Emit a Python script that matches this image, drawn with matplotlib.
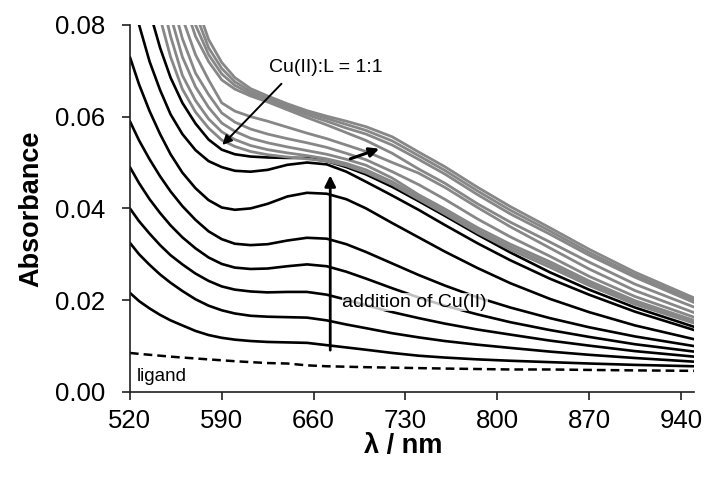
import matplotlib
matplotlib.use("Agg")
import matplotlib.pyplot as plt

plt.rcParams['font.family'] = ['Liberation Sans', 'DejaVu Sans']

wavelength = [520, 527, 535, 543, 551, 560, 570, 580, 590, 600, 612, 625, 640,
              655, 670, 685, 700, 720, 740, 760, 785, 810, 840, 870, 905, 950]

# black spectra (increasing Cu(II) up to Cu(II):L = 1:1)
black_1 = [.0216, .0198, .0182, .0168, .0156, .0145, .0133, .0124, .0118, .0114, .0111, .0109, .0108,
           .0107, .0102, .0097, .0092, .0085, .0079, .0075, .0071, .0068, .0065, .0062, .0059, .0056]
black_2 = [.0325, .0300, .0277, .0256, .0238, .0220, .0202, .0188, .0178, .0171, .0166, .0164, .0163,
           .0162, .0156, .0147, .0139, .0128, .0119, .0111, .0103, .0096, .0088, .0081, .0074, .0066]
black_3 = [.0400, .0372, .0345, .0320, .0298, .0278, .0258, .0242, .0230, .0223, .0219, .0217, .0218,
           .0218, .0212, .0201, .0189, .0174, .0161, .0149, .0136, .0125, .0112, .0101, .0089, .0077]
black_4 = [.0490, .0455, .0420, .0390, .0363, .0337, .0313, .0293, .0279, .0271, .0268, .0269, .0274,
           .0278, .0274, .0262, .0247, .0226, .0206, .0188, .0169, .0152, .0135, .0120, .0104, .0088]
black_5 = [.0590, .0548, .0507, .0470, .0437, .0405, .0375, .0350, .0333, .0323, .0320, .0322, .0330,
           .0336, .0334, .0322, .0305, .0280, .0255, .0232, .0206, .0184, .0161, .0141, .0121, .0100]
black_6 = [.0730, .0670, .0612, .0562, .0518, .0478, .0444, .0418, .0402, .0397, .0400, .0410, .0426,
           .0434, .0432, .0420, .0400, .0368, .0337, .0306, .0270, .0237, .0203, .0174, .0145, .0115]
black_7 = [.0960, .0800, .0720, .0658, .0605, .0562, .0527, .0503, .0490, .0482, .0480, .0484, .0495,
           .0500, .0496, .0480, .0458, .0428, .0397, .0364, .0324, .0287, .0247, .0212, .0175, .0135]
black_8 = [.1050, .0930, .0830, .0750, .0685, .0630, .0585, .0550, .0528, .0518, .0513, .0511, .0510,
           .0510, .0503, .0490, .0474, .0447, .0416, .0384, .0343, .0304, .0261, .0223, .0184, .0142]
black_series = [black_1, black_2, black_3, black_4, black_5, black_6, black_7, black_8]

# grey spectra (beyond 1:1)
grey_1 = [.125, .110, .095, .0815, .0730, .0660, .0610, .0575, .0549, .0535, .0524, .0517, .0512,
          .0508, .0503, .0493, .0478, .0452, .0420, .0388, .0347, .0310, .0272, .0232, .0191, .0150]
grey_2 = [.130, .115, .100, .0870, .0775, .0690, .0635, .0595, .0567, .0550, .0537, .0528, .0521,
          .0515, .0508, .0498, .0484, .0458, .0425, .0393, .0352, .0316, .0278, .0237, .0195, .0153]
grey_3 = [.135, .120, .105, .0920, .0820, .0730, .0665, .0620, .0586, .0568, .0553, .0543, .0534,
          .0526, .0518, .0507, .0494, .0466, .0430, .0399, .0358, .0322, .0284, .0242, .0199, .0156]
grey_4 = [.140, .125, .110, .0970, .0865, .0770, .0695, .0648, .0608, .0588, .0573, .0562, .0552,
          .0543, .0533, .0520, .0506, .0480, .0452, .0420, .0377, .0338, .0296, .0252, .0208, .0163]
grey_5 = [.145, .130, .115, .1020, .0910, .0815, .0735, .0680, .0630, .0612, .0600, .0590, .0577,
          .0564, .0552, .0538, .0524, .0500, .0477, .0446, .0402, .0360, .0314, .0268, .0221, .0173]
grey_6 = [.150, .135, .120, .1070, .0960, .0860, .0775, .0720, .0680, .0660, .0645, .0632, .0615,
          .0598, .0582, .0565, .0548, .0520, .0486, .0455, .0410, .0370, .0327, .0283, .0235, .0185]
grey_7 = [.153, .138, .123, .1100, .0990, .0890, .0800, .0735, .0693, .0668, .0650, .0636, .0620,
          .0604, .0590, .0575, .0562, .0538, .0507, .0475, .0430, .0388, .0344, .0298, .0250, .0195]
grey_8 = [.156, .141, .126, .1130, .1020, .0915, .0825, .0750, .0705, .0676, .0655, .0640, .0624,
          .0609, .0596, .0583, .0570, .0547, .0515, .0483, .0438, .0396, .0351, .0304, .0255, .0200]
grey_9 = [.159, .144, .129, .1160, .1050, .0940, .0850, .0768, .0718, .0685, .0661, .0645, .0628,
          .0613, .0601, .0590, .0578, .0556, .0523, .0491, .0446, .0404, .0358, .0311, .0261, .0205]
grey_series = [grey_1, grey_2, grey_3, grey_4, grey_5, grey_6, grey_7, grey_8, grey_9]

ligand = [.0085, .0083, .0081, .0079, .0077, .0075, .0073, .0071, .0069, .0067, .0065, .0063, .0062,
          .0058, .0056, .0055, .0054, .0053, .0052, .0051, .0050, .0049, .0049, .0048, .0047, .0046]

x_ticks = [520, 590, 660, 730, 800, 870, 940]
y_ticks = [0.00, 0.02, 0.04, 0.06, 0.08]

fig = plt.figure(figsize=(7.06, 4.78), dpi=100)
ax = fig.add_axes([0.184, 0.180, 0.799, 0.768])

for s in black_series:
    ax.plot(wavelength, s, color='black', lw=1.9, solid_joinstyle='round', solid_capstyle='round', zorder=2)
for s in grey_series:
    ax.plot(wavelength, s, color='#878787', lw=2.0, solid_joinstyle='round', solid_capstyle='round', zorder=3)
ax.plot(wavelength, ligand, color='black', lw=1.8, dashes=(3.5, 2), zorder=2)

ax.set_xlim(520, 950)
ax.set_ylim(0, 0.08)
ax.set_xticks(x_ticks)
ax.set_yticks(y_ticks)
ax.set_yticklabels([f"{v:.2f}" for v in y_ticks])
for sp in ['top', 'right']:
    ax.spines[sp].set_visible(False)
for sp in ['left', 'bottom']:
    ax.spines[sp].set_linewidth(1.2)
    ax.spines[sp].set_color('#202020')
ax.tick_params(direction='out', length=6, width=1.2, labelsize=18.5, colors='#202020', labelcolor='black')
ax.tick_params(axis='y', pad=12)
ax.tick_params(axis='x', pad=6)

ax.set_xlabel('λ / nm', fontsize=19.5, fontweight='bold')
ax.xaxis.set_label_coords(0.485, -0.112)
ax.set_ylabel('Absorbance', fontsize=19.5, fontweight='bold')
ax.yaxis.set_label_coords(-0.152, 0.5)

# annotations
ax.annotate('', xy=(589, 0.0534), xytext=(637, 0.0676),
            arrowprops=dict(arrowstyle='-|>', color='black', lw=1.4, mutation_scale=14))
ax.text(669, 0.0708, 'Cu(II):L = 1:1', fontsize=14, ha='center', va='center')
ax.annotate('', xy=(712, 0.0532), xytext=(686, 0.0506),
            arrowprops=dict(arrowstyle='-|>', color='black', lw=2.2, mutation_scale=14))
ax.annotate('', xy=(672.7, 0.0478), xytext=(672.7, 0.0085),
            arrowprops=dict(arrowstyle='-|>', color='black', lw=2.0, mutation_scale=16))
ax.text(682, 0.0196, 'addition of Cu(II)', fontsize=14, ha='left', va='center',
        bbox=dict(facecolor='white', edgecolor='none', alpha=0.75, pad=0.5), zorder=4)
ax.text(525, 0.0033, 'ligand', fontsize=13.5, ha='left', va='center')

fig.savefig('out.png', dpi=100)
